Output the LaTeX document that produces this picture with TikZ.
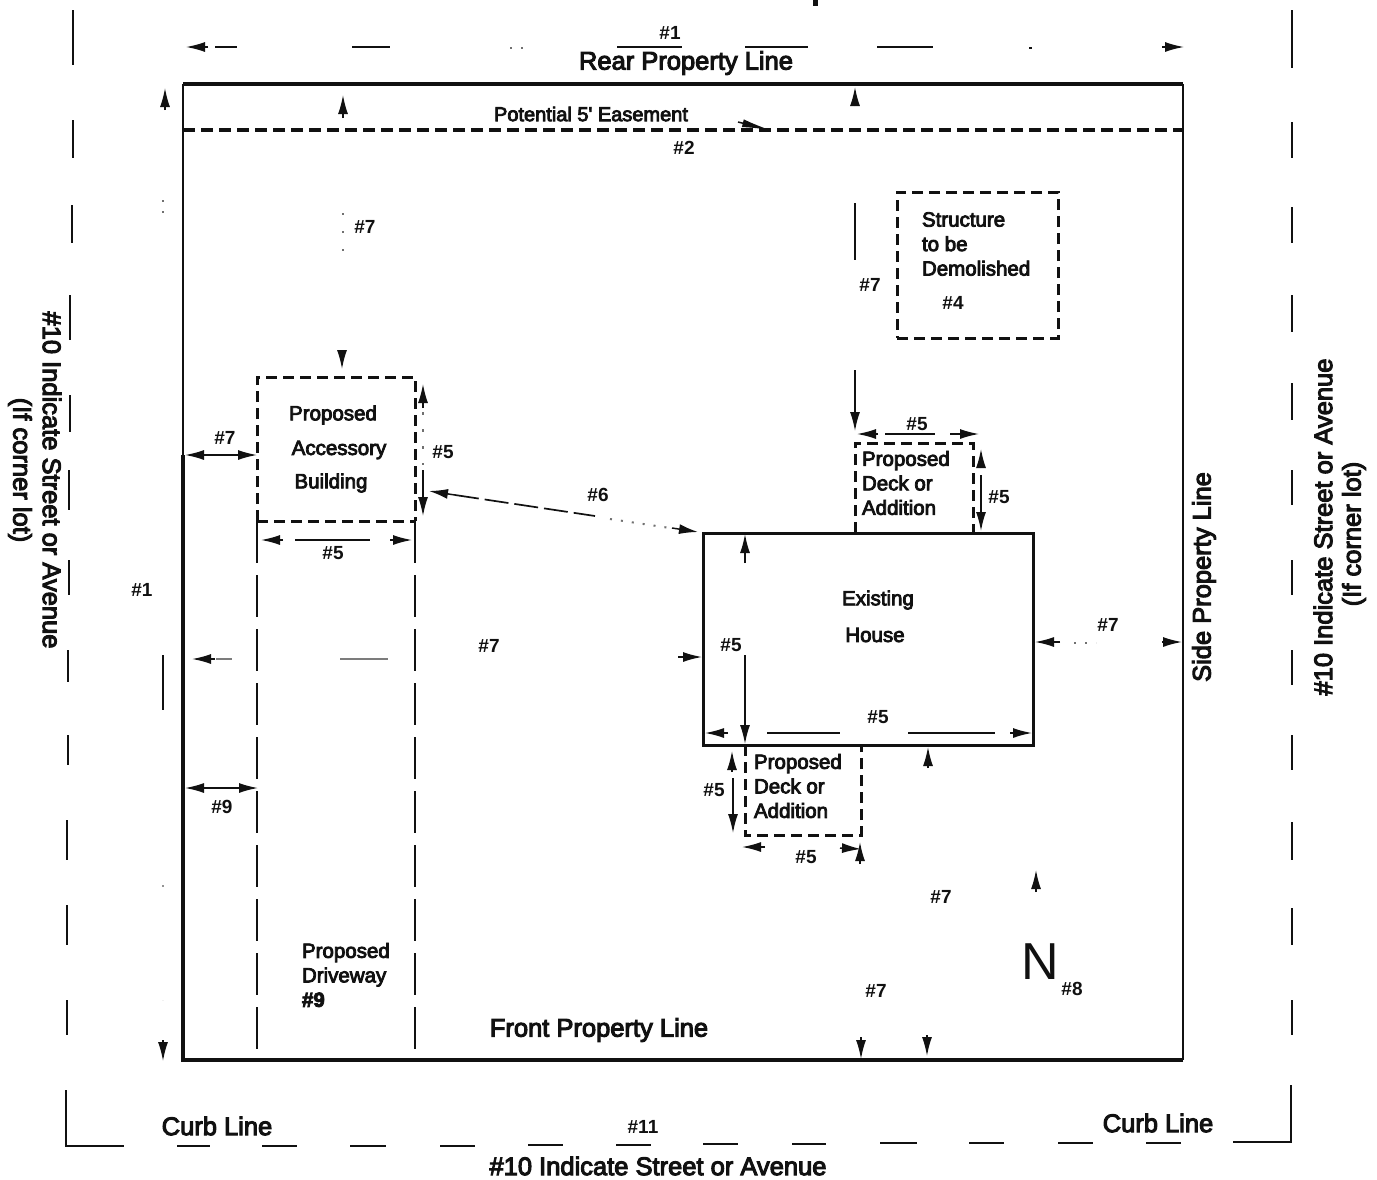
\documentclass[tikz,border=0pt]{standalone}
\usepackage{fontspec}
\setmainfont{Liberation Sans}
\newfontfamily\medfont[FakeBold=4]{Liberation Sans}
\usetikzlibrary{arrows.meta}
\definecolor{ink}{HTML}{111111}
\newcommand{\seg}[4]{\coordinate (#1a) at (#2); \coordinate (#1b) at (#3); \draw[#4] (#1a) -- (#1b);}
\tikzset{
  x=1pt,y=-1pt,
  every node/.style={text=ink,inner sep=0pt,outer sep=0pt},
  outerline/.style={draw=ink,line width=2.2pt},
  propline/.style={draw=ink,line width=3.4pt},
  thinprop/.style={draw=ink,line width=2.2pt},
  dashbox/.style={draw=ink,line width=3pt,dash pattern=on 11pt off 6pt},
  longdash/.style={draw=ink,line width=2.7pt,dash pattern=on 42pt off 12pt},
  dimtip/.style={draw=ink,line width=1.5pt,-{Latex[length=19pt,width=10pt]}},
  dimline/.style={draw=ink,line width=1.5pt},
  dimfaint/.style={draw=ink!55,line width=1.4pt},
  dotted seg/.style={draw=ink!60,line width=2pt,dash pattern=on 2pt off 9pt},
  biglab/.style={font=\fontsize{25.5}{27}\selectfont\medfont},
  boxlab/.style={font=\fontsize{20.5}{24.5}\selectfont\medfont,align=left},
  numlab/.style={font=\fontsize{19}{22}\selectfont\bfseries}
}
\begin{document}
\begin{tikzpicture}
\useasboundingbox (0,0) rectangle (1377,1179);
\fill[white] (0,0) rectangle (1377,1179);

% outer street border
\foreach \i/\x/\a/\b in {1/73/10/65,2/73/120/158,3/72/205/243,4/70/295/340,5/70/395/432,6/69/470/510,7/69/560/595,8/68/650/682,9/68/735/765,10/67/820/860,11/67/905/945,12/67/1000/1035}{
  \seg{ol\i}{\x,\a}{\x,\b}{outerline}
}
\foreach \i/\a/\b in {1/10/68,2/122/158,3/207/243,4/295/332,5/383/420,6/470/505,7/560/595,8/650/685,9/735/770,10/822/860,11/908/945,12/1000/1035}{
  \seg{or\i}{1292,\a}{1292,\b}{outerline}
}
\foreach \i/\a/\b/\y in {1/177/210/1146,2/262/297/1146,3/350/386/1146,4/440/475/1146,5/528/563/1145,6/616/651/1145,7/703/738/1144,8/792/826/1144,9/880/917/1143,10/969/1004/1143,11/1058/1093/1143,12/1146/1181/1143}{
  \seg{ob\i}{\a,\y}{\b,\y}{outerline}
}
\coordinate (cornerLa) at (66,1090); \coordinate (cornerL) at (66,1146); \coordinate (cornerLb) at (124,1146);
\draw[outerline] (cornerLa) -- (cornerL) -- (cornerLb);
\coordinate (cornerRa) at (1291,1085); \coordinate (cornerR) at (1291,1142); \coordinate (cornerRb) at (1233,1142);
\draw[outerline] (cornerRa) -- (cornerR) -- (cornerRb);

% property
\coordinate (pTL) at (183,84); \coordinate (pTR) at (1183,84); \coordinate (pBR) at (1183,1060); \coordinate (pBL) at (183,1060); \coordinate (pLm) at (183,455);
\draw[propline] (pTL) -- (pTR);
\draw[thinprop] (pTR) -- (pBR);
\draw[propline] (pBR) -- (pBL) -- (pLm);
\draw[thinprop] (pLm) -- (pTL);
\seg{ease}{183,130}{1183,130}{draw=ink,line width=3.2pt,dash pattern=on 12pt off 6pt}

% boxes
\coordinate (aTL) at (257,377); \coordinate (aTR) at (415,377); \coordinate (aBL) at (257,521); \coordinate (aBR) at (415,521);
\coordinate (drBL) at (257,1060); \coordinate (drBR) at (415,1060);
\draw[dashbox] (aBL) -- (aTL) -- (aTR) -- (aBR);
\draw[dashbox] (aBL) -- (aBR);
\draw[longdash] (aBL) -- (drBL);
\draw[longdash] (aBR) -- (drBR);

\node[draw=ink,line width=3pt,minimum width=330pt,minimum height=212pt,anchor=north west] (house) at (703,533) {};
\coordinate (dt1) at (855,533); \coordinate (dt2) at (855,443); \coordinate (dt3) at (973,443); \coordinate (dt4) at (973,533);
\draw[dashbox] (dt1) -- (dt2) -- (dt3) -- (dt4);
\coordinate (db1) at (745,745); \coordinate (db2) at (745,835); \coordinate (db3) at (861,835); \coordinate (db4) at (861,745);
\draw[dashbox] (db1) -- (db2) -- (db3) -- (db4);
\node[dashbox,minimum width=161pt,minimum height=146pt,anchor=north west] (demo) at (897,192) {};

% top dimension #1
\seg{t1}{208,47}{186,47}{dimtip}
\seg{t2}{215,47}{237,47}{dimline}
\seg{t3}{352,47}{390,47}{dimline}
\seg{t4}{510,48}{526,48}{dotted seg}
\seg{t5}{617,47}{682,47}{draw=ink,line width=2.2pt}
\seg{t6}{745,47}{808,47}{draw=ink,line width=2.2pt}
\seg{t7}{877,47}{933,47}{draw=ink,line width=2.2pt}
\seg{t8}{1029,48}{1032,48}{draw=ink,line width=2.5pt}
\seg{t9}{1162,47}{1184,47}{dimtip}
\seg{t10}{815,0}{815,6}{draw=ink,line width=5pt}

% left dimension #1
\seg{l1}{165,110}{165,88}{dimtip}
\seg{l2}{163,200}{163,215}{dotted seg}
\seg{l3}{163,655}{163,710}{dimline}
\seg{l4}{163,885}{163,1000}{draw=ink!45,line width=1.6pt,dash pattern=on 2pt off 113pt}
\seg{l5}{163,1040}{163,1061}{dimtip}

% arrows, column x=343
\seg{c1}{343,118}{343,95}{dimtip}
\seg{c2}{343,213}{343,252}{draw=ink!60,line width=1.8pt,dash pattern=on 2pt off 16pt}
\seg{c3}{342,350}{342,369}{dimtip}
\seg{c4}{340,659}{388,659}{dimfaint}

% arrows, column x=855
\seg{d1}{855,106}{855,87}{dimtip}
\seg{d2}{855,203}{855,260}{dimline}
\seg{d3}{855,370}{855,431}{dimtip}

% deck top
\seg{e1}{878,434}{857,434}{dimtip}
\seg{e2}{885,434}{935,434}{dimline}
\seg{e3}{950,434}{979,434}{dimtip}
\seg{e4}{981,468}{981,449}{dimtip}
\seg{e5}{981,475}{981,531}{dimtip}

% house
\seg{h1}{745,563}{745,534}{dimtip}
\seg{h2}{678,657}{702,657}{dimtip}
\seg{h3}{745,655}{745,744}{dimtip}
\seg{h4}{728,733}{705,733}{dimtip}
\seg{h5}{767,733}{840,733}{dimline}
\seg{h6}{908,733}{995,733}{dimline}
\seg{h7}{1010,733}{1032,733}{dimtip}
\seg{h8}{1060,642}{1035,642}{dimtip}
\seg{h9}{1074,643}{1096,643}{dotted seg}
\seg{h10}{1162,642}{1182,642}{dimtip}

% deck bottom
\seg{b1}{928,768}{928,747}{dimtip}
\seg{b2}{732,772}{732,751}{dimtip}
\seg{b3}{733,778}{733,833}{dimtip}
\seg{b4}{765,847}{742,847}{dimtip}
\seg{b5}{840,848}{861,849}{dimtip}
\seg{b6}{860,864}{860,842}{dimtip}
\seg{b7}{1036,892}{1036,870}{dimtip}
\seg{b8}{861,1037}{861,1059}{dimtip}
\seg{b9}{927,1035}{927,1056}{dimtip}

% accessory dims
\seg{k1}{210,455}{185,455}{dimtip}
\seg{k2}{208,455}{235,455}{dimline}
\seg{k3}{235,455}{257,455}{dimtip}
\seg{k4}{212,788}{185,788}{dimtip}
\seg{k5}{210,788}{235,788}{dimline}
\seg{k6}{235,788}{258,788}{dimtip}
\seg{k7}{283,540}{261,540}{dimtip}
\seg{k8}{295,540}{370,540}{dimline}
\seg{k9}{390,540}{412,540}{dimtip}
\seg{k10}{423,408}{423,384}{dimtip}
\seg{k11}{423,470}{423,516}{dimtip}
\seg{k12}{423,412}{423,465}{draw=ink!60,line width=1.8pt,dash pattern=on 3pt off 14pt}

% drive / #7 left
\seg{m1}{215,659}{192,659}{dimtip}
\seg{m2}{216,659}{232,659}{dimfaint}

% #6
\seg{s1}{455,495}{429,491}{dimtip}
\seg{s2}{455,495}{595,516}{draw=ink,line width=1.7pt,dash pattern=on 24pt off 6pt}
\seg{s3}{610,519}{670,528}{dotted seg}
\seg{s4}{672,528}{698,532}{dimtip}

% easement mark
\seg{z1}{738,122}{770,130}{draw=ink,line width=1.5pt,-{Latex[length=28pt,width=8pt]}}

% text
\node[biglab] (rear) at (686,63) {Rear Property Line};
\node[biglab] (front) at (599,1030) {Front Property Line};
\node[biglab] (curb1) at (217,1126) {Curb Line};
\node[biglab] (curb2) at (1158,1123) {Curb Line};
\node[biglab] (st) at (658,1166) {\#10 Indicate Street or Avenue};
\node[biglab,rotate=-90] (sl) at (52,480) {\#10 Indicate Street or Avenue};
\node[biglab,rotate=-90] (sl2) at (20,470) {(If corner lot)};
\node[biglab,rotate=90] (sr) at (1323,527) {\#10 Indicate Street or Avenue};
\node[biglab,rotate=90] (sr2) at (1354,534) {(If corner lot)};
\node[biglab,rotate=90] (side) at (1204,577) {Side Property Line};
\node[font=\fontsize{20}{22}\selectfont\medfont] (eas) at (591,114) {Potential 5' Easement};
\node[font=\fontsize{52}{54}\selectfont] (north) at (1040,962) {N};

\node[boxlab,anchor=west] (st1) at (922,244) {Structure\\to be\\Demolished};
\node[boxlab] (ac1) at (333,415) {Proposed};
\node[boxlab] (ac2) at (339,450) {Accessory};
\node[boxlab] (ac3) at (331,483) {Building};
\node[boxlab,anchor=west] (dk1) at (862,483) {Proposed\\Deck or\\Addition};
\node[boxlab,anchor=west] (dk2) at (754,786) {Proposed\\Deck or\\Addition};
\node[boxlab] (ex1) at (878,600) {Existing};
\node[boxlab] (ex2) at (875,635) {House};
\node[boxlab,anchor=west] (dr) at (302,975) {Proposed\\Driveway\\\textbf{\#9}};

\node[numlab] (n1) at (670,33) {\#1};
\node[numlab] (n2) at (684,148) {\#2};
\node[numlab] (n3) at (365,227) {\#7};
\node[numlab] (n4) at (870,285) {\#7};
\node[numlab] (n5) at (953,303) {\#4};
\node[numlab] (n6) at (917,424) {\#5};
\node[numlab] (n7) at (999,497) {\#5};
\node[numlab] (n8) at (225,438) {\#7};
\node[numlab] (n9) at (443,452) {\#5};
\node[numlab] (n10) at (598,495) {\#6};
\node[numlab] (n11) at (333,553) {\#5};
\node[numlab] (n12) at (142,590) {\#1};
\node[numlab] (n13) at (489,646) {\#7};
\node[numlab] (n14) at (731,645) {\#5};
\node[numlab] (n15) at (1108,625) {\#7};
\node[numlab] (n16) at (878,717) {\#5};
\node[numlab] (n17) at (714,790) {\#5};
\node[numlab] (n18) at (222,807) {\#9};
\node[numlab] (n19) at (806,857) {\#5};
\node[numlab] (n20) at (941,897) {\#7};
\node[numlab] (n21) at (876,991) {\#7};
\node[numlab] (n22) at (1072,989) {\#8};
\node[numlab] (n23) at (643,1127) {\#11};
\end{tikzpicture}
\end{document}
